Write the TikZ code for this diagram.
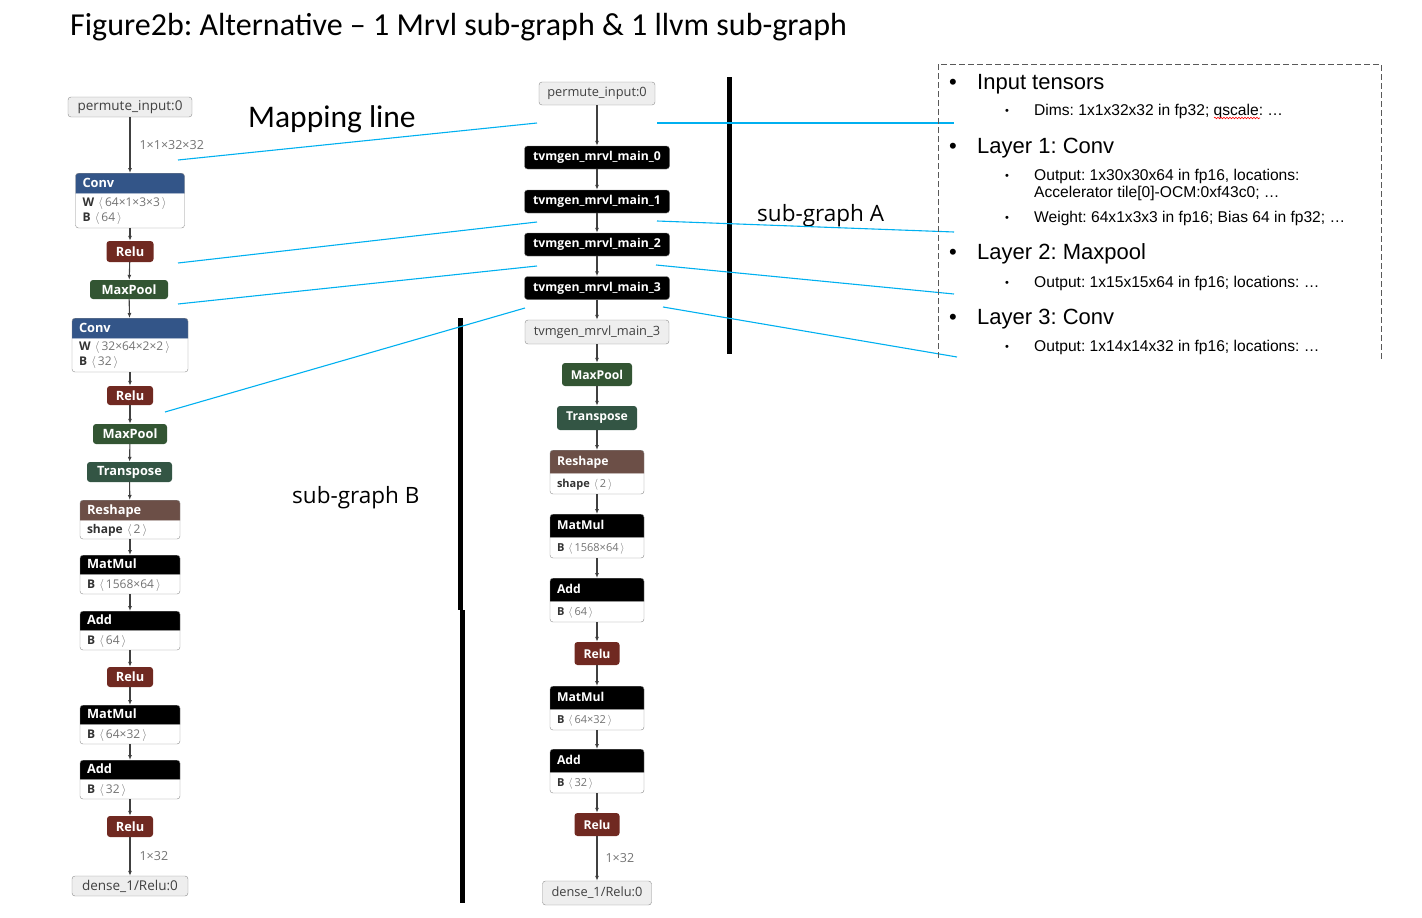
\documentclass[tikz,border=0pt]{standalone}
\usepackage{fontspec}
\setmainfont{Open Sans}
\newfontfamily\calibri{Carlito}
\newfontfamily\arialf{Liberation Sans}
\usetikzlibrary{positioning,arrows.meta,calc,shapes.multipart,decorations.pathmorphing}
\definecolor{layerblue}{RGB}{51,85,136}
\definecolor{actred}{RGB}{112,41,33}
\definecolor{poolgreen}{RGB}{51,85,51}
\definecolor{transgreen}{RGB}{51,85,68}
\definecolor{shapebrown}{RGB}{108,79,71}
\definecolor{iogray}{RGB}{238,238,238}
\definecolor{mapblue}{RGB}{0,176,240}
\frenchspacing
\newcommand{\vstrut}[2]{\rule[-#1pt]{0pt}{#2pt}}
\newcommand{\lfnt}{\fontsize{13.5}{16}\selectfont}
\newcommand{\mfnt}{\fontsize{12.8}{15}\selectfont}
\newcommand{\lhfnt}{\bfseries\fontsize{12.8}{15}\selectfont}
\newcommand{\mhfnt}{\bfseries\fontsize{12.2}{14}\selectfont}
\newcommand{\lbfnt}{\mdseries\fontsize{12}{13}\selectfont}
\newcommand{\mbfnt}{\mdseries\fontsize{11}{13}\selectfont}
\newcommand{\dimtxt}[1]{{\color{black!55}$\langle\,$#1$\,\rangle$}}

\begin{document}
\begin{tikzpicture}[x=1pt,y=-1pt,
 io/.style={draw=black!45,fill=iogray,rounded corners=3pt,inner sep=0pt,text=black!75},
 op/.style={rounded corners=3pt,inner sep=0pt,text=white},
 two/.style={rectangle split,rectangle split parts=2,rectangle split draw splits=false,draw=black!45,rounded corners=3pt,inner xsep=7pt,inner ysep=0pt,align=left,anchor=north,text=white},
 arr/.style={-{Latex[length=5pt,width=4pt]},line width=1.1pt,draw=black!75},
 elab/.style={text=black!55,font=\fontsize{12.5}{14}\selectfont,inner sep=1pt},
 map/.style={draw=mapblue,line width=1.1pt},
 bar/.style={line width=5pt},
 itemhead/.style={font=\arialf\fontsize{22}{26}\selectfont,anchor=base west,inner sep=0pt},
 itemtext/.style={font=\arialf\fontsize{15.6}{18}\selectfont,anchor=base west,inner sep=0pt},
 subdot/.style={font=\arialf\fontsize{11}{12}\selectfont,anchor=base west,inner sep=0pt}]
\useasboundingbox (0,0) rectangle (1422,918);

% titles
\node[anchor=base west,inner sep=0pt,font=\calibri\fontsize{32}{36}\selectfont] (title) at (70,35) {Figure2b: Alternative – 1 Mrvl sub-graph \& 1 llvm sub-graph};
\node[anchor=base west,inner sep=0pt,font=\calibri\fontsize{31.5}{36}\selectfont] (maptxt) at (248,127) {Mapping line};
\node[anchor=base west,inner sep=0pt,font=\fontsize{22.5}{26}\selectfont] (subA) at (757,221) {sub-graph A};
\node[anchor=base west,inner sep=0pt,font=\fontsize{22.5}{26}\selectfont] (subB) at (292,503) {sub-graph B};

% left graph (original)
\node[io,minimum width=124,minimum height=20,font=\lfnt] (lp) at (130,107) {permute\_input:0};
\node[two,text width=95pt,rectangle split part fill={layerblue,white},font=\lhfnt] (lc1) at (130,173) {\vstrut{6}{20}Conv\nodepart{two}\lbfnt\color{black!80}\vstrut{4}{17}\textbf{W} \dimtxt{64×1×3×3}\\\vstrut{6}{13}\textbf{B} \dimtxt{64}};
\node[op,fill=actred,minimum width=47,minimum height=21,font=\lhfnt] (lr1) at (130,251.5) {Relu};
\node[op,fill=poolgreen,minimum width=78,minimum height=19,font=\lhfnt] (lm1) at (129,289.5) {MaxPool};
\node[two,text width=102pt,rectangle split part fill={layerblue,white},font=\lhfnt] (lc2) at (130,318) {\vstrut{6}{20}Conv\nodepart{two}\lbfnt\color{black!80}\vstrut{4}{16}\textbf{W} \dimtxt{32×64×2×2}\\\vstrut{6}{13}\textbf{B} \dimtxt{32}};
\node[op,fill=actred,minimum width=46,minimum height=19,font=\lhfnt] (lr2) at (130,395.5) {Relu};
\node[op,fill=poolgreen,minimum width=74,minimum height=20,font=\lhfnt] (lm2) at (130,434) {MaxPool};
\node[op,fill=transgreen,minimum width=85,minimum height=20,font=\lhfnt] (lt) at (129.5,472) {Transpose};
\node[two,text width=86pt,rectangle split part fill={shapebrown,white},font=\lhfnt] (lrs) at (130,500) {\vstrut{6}{20}Reshape\nodepart{two}\lbfnt\color{black!80}\vstrut{5}{18}\textbf{shape} \dimtxt{2}};
\node[two,text width=86pt,rectangle split part fill={black,white},font=\lhfnt] (lmm1) at (130,555) {\vstrut{6}{19}MatMul\nodepart{two}\lbfnt\color{black!80}\vstrut{5}{19}\textbf{B} \dimtxt{1568×64}};
\node[two,text width=86pt,rectangle split part fill={black,white},font=\lhfnt] (la1) at (130,611) {\vstrut{6}{19}Add\nodepart{two}\lbfnt\color{black!80}\vstrut{5}{19}\textbf{B} \dimtxt{64}};
\node[op,fill=actred,minimum width=46,minimum height=20,font=\lhfnt] (lr3) at (130,677) {Relu};
\node[two,text width=86pt,rectangle split part fill={black,white},font=\lhfnt] (lmm2) at (130,705) {\vstrut{6}{19}MatMul\nodepart{two}\lbfnt\color{black!80}\vstrut{5}{19}\textbf{B} \dimtxt{64×32}};
\node[two,text width=86pt,rectangle split part fill={black,white},font=\lhfnt] (la2) at (130,760) {\vstrut{6}{19}Add\nodepart{two}\lbfnt\color{black!80}\vstrut{5}{19}\textbf{B} \dimtxt{32}};
\node[op,fill=actred,minimum width=46,minimum height=21,font=\lhfnt] (lr4) at (130,826.5) {Relu};
\node[io,minimum width=116,minimum height=20,font=\lfnt] (ld) at (130,886) {dense\_1/Relu:0};

\draw[arr](lp)--(lc1) node[elab,midway,right=8pt]{1×1×32×32};
\foreach \a/\b in {lc1/lr1,lr1/lm1,lm1/lc2,lc2/lr2,lr2/lm2,lm2/lt,lt/lrs,lrs/lmm1,lmm1/la1,la1/lr3,lr3/lmm2,lmm2/la2,la2/lr4}
  \draw[arr](\a)--(\b);
\draw[arr](lr4)--(ld) node[elab,midway,right=8pt]{1×32};

% middle graph (partitioned)
\node[io,minimum width=116,minimum height=23,font=\mfnt] (mp) at (597,93.5) {permute\_input:0};
\node[op,fill=black,draw=black!50,minimum width=145,minimum height=23,font=\mhfnt] (m0) at (597,157.5) {tvmgen\_mrvl\_main\_0};
\node[op,fill=black,draw=black!50,minimum width=145,minimum height=23,font=\mhfnt] (m1) at (597,201.5) {tvmgen\_mrvl\_main\_1};
\node[op,fill=black,draw=black!50,minimum width=145,minimum height=23,font=\mhfnt] (m2) at (597,244.5) {tvmgen\_mrvl\_main\_2};
\node[op,fill=black,draw=black!50,minimum width=145,minimum height=23,font=\mhfnt] (m3) at (597,288) {tvmgen\_mrvl\_main\_3};
\node[io,minimum width=144,minimum height=24,font=\mfnt] (m3b) at (597,332) {tvmgen\_mrvl\_main\_3};
\node[op,fill=poolgreen,minimum width=70,minimum height=23,font=\mhfnt] (mmp) at (597,374.5) {MaxPool};
\node[op,fill=transgreen,minimum width=80,minimum height=24,font=\mhfnt] (mt) at (597,418) {Transpose};
\node[two,text width=80pt,rectangle split part fill={shapebrown,white},font=\mhfnt] (mrs) at (597,450) {\vstrut{7.5}{23}Reshape\nodepart{two}\mbfnt\color{black!80}\vstrut{6}{20}\textbf{shape} \dimtxt{2}};
\node[two,text width=80pt,rectangle split part fill={black,white},font=\mhfnt] (mmm1) at (597,514) {\vstrut{7.5}{23}MatMul\nodepart{two}\mbfnt\color{black!80}\vstrut{6}{20}\textbf{B} \dimtxt{1568×64}};
\node[two,text width=80pt,rectangle split part fill={black,white},font=\mhfnt] (ma1) at (597,578) {\vstrut{7.5}{23}Add\nodepart{two}\mbfnt\color{black!80}\vstrut{6}{20}\textbf{B} \dimtxt{64}};
\node[op,fill=actred,minimum width=45,minimum height=23,font=\mhfnt] (mr1) at (597,653.5) {Relu};
\node[two,text width=80pt,rectangle split part fill={black,white},font=\mhfnt] (mmm2) at (597,686) {\vstrut{7.5}{23}MatMul\nodepart{two}\mbfnt\color{black!80}\vstrut{6}{20}\textbf{B} \dimtxt{64×32}};
\node[two,text width=80pt,rectangle split part fill={black,white},font=\mhfnt] (ma2) at (597,749) {\vstrut{7.5}{23}Add\nodepart{two}\mbfnt\color{black!80}\vstrut{6}{20}\textbf{B} \dimtxt{32}};
\node[op,fill=actred,minimum width=45,minimum height=23,font=\mhfnt] (mr2) at (597,824.5) {Relu};
\node[io,minimum width=109,minimum height=24,font=\mfnt] (md) at (597,893) {dense\_1/Relu:0};

\foreach \a/\b in {mp/m0,m0/m1,m1/m2,m2/m3,m3/m3b,m3b/mmp,mmp/mt,mt/mrs,mrs/mmm1,mmm1/ma1,ma1/mr1,mr1/mmm2,mmm2/ma2,ma2/mr2}
  \draw[arr](\a)--(\b);
\draw[arr](mr2)--(md) node[elab,midway,right=7pt]{1×32};

% sub-graph bars
\draw[bar] (729,77)--(729,354);
\draw[bar] (460,318)--(460,610);
\draw[bar] (462,610)--(462,903);

% mapping lines
\foreach \i/\p/\q in {1/{178,160}/{537,123},2/{178,263}/{537,222},3/{178,304}/{537,266},4/{165,412}/{525,308},5/{657,123}/{954,123},6/{657,221}/{954,232},7/{656,265}/{954,294},8/{663,307}/{957,357}}
  {\coordinate (mapa\i) at (\p); \coordinate (mapb\i) at (\q); \draw[map](mapa\i)--(mapb\i);}

% layer notes
\draw[dash pattern=on 6pt off 3pt,line width=0.9pt,draw=black!65] (938,358)--(938,64)--(1381,64)--(1381,360);
\node[itemhead] (d1) at (949,89) {•};
\node[itemhead] (h1) at (977,89) {Input tensors};
\node[subdot] (d2) at (1005,114) {•};
\node[itemtext] (s1) at (1034,115) {Dims: 1x1x32x32 in fp32; qscale: …};
\draw[red,line width=0.6pt,decorate,decoration={snake,amplitude=0.8pt,segment length=3pt}] (1214,118)--(1260,118);
\node[itemhead] (d3) at (949,153) {•};
\node[itemhead] (h2) at (977,153) {Layer 1: Conv};
\node[subdot] (d4) at (1005,179) {•};
\node[itemtext] (s2) at (1034,180) {Output: 1x30x30x64 in fp16, locations:};
\node[itemtext] (s3) at (1034,197) {Accelerator tile[0]-OCM:0xf43c0; …};
\node[subdot] (d5) at (1005,221) {•};
\node[itemtext] (s4) at (1034,222) {Weight: 64x1x3x3 in fp16; Bias 64 in fp32; …};
\node[itemhead] (d6) at (949,259) {•};
\node[itemhead] (h3) at (977,259) {Layer 2: Maxpool};
\node[subdot] (d7) at (1005,286) {•};
\node[itemtext] (s5) at (1034,287) {Output: 1x15x15x64 in fp16; locations: …};
\node[itemhead] (d8) at (949,324) {•};
\node[itemhead] (h4) at (977,324) {Layer 3: Conv};
\node[subdot] (d9) at (1005,350) {•};
\node[itemtext] (s6) at (1034,351) {Output: 1x14x14x32 in fp16; locations: …};
\end{tikzpicture}
\end{document}
